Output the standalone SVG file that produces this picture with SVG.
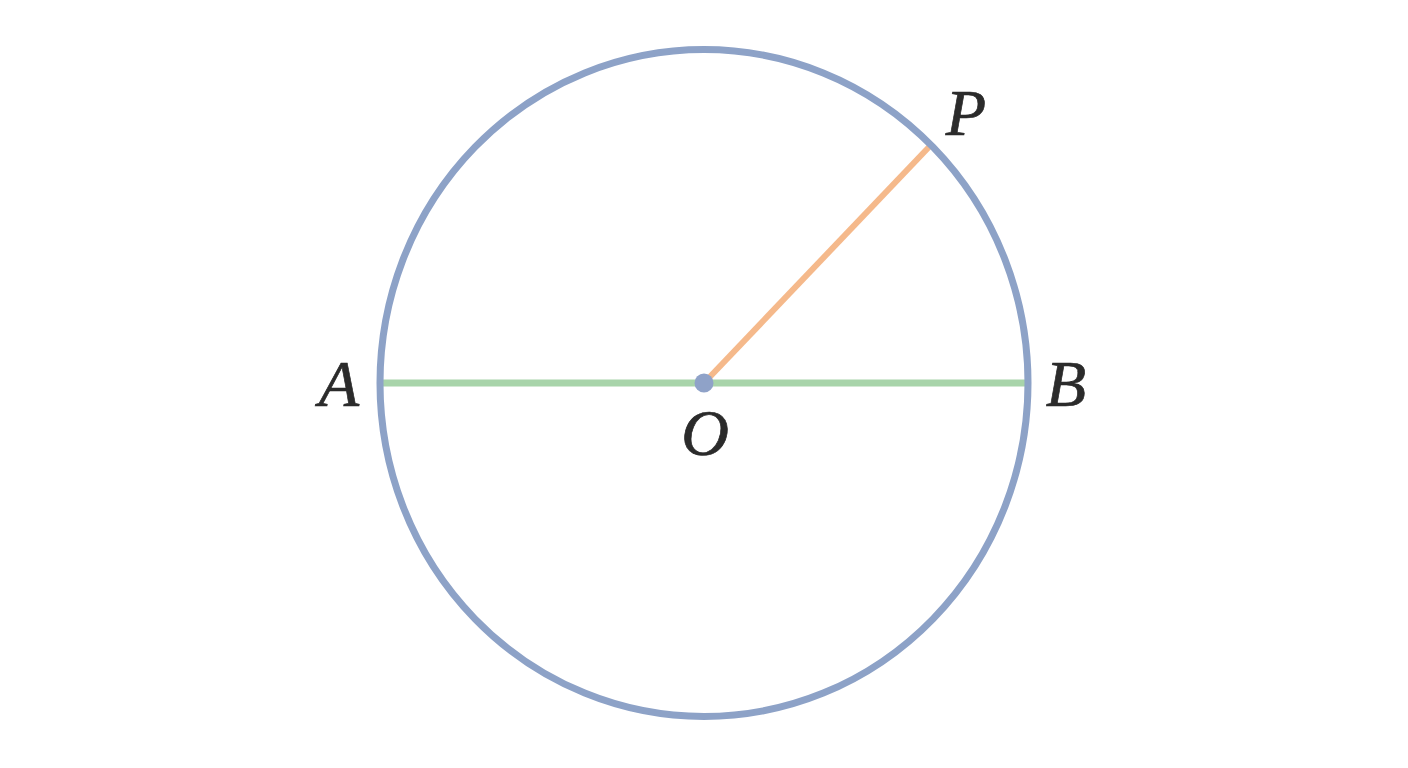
<svg xmlns="http://www.w3.org/2000/svg" width="1408" height="768" viewBox="0 0 1408 768">
<style>
.lbl{font-family:"Liberation Serif","Times New Roman",serif;font-style:italic;font-size:66px;fill:#2b2b2b;stroke:#2b2b2b;stroke-width:0.7px;text-anchor:middle}
</style>
<rect width="1408" height="768" fill="#ffffff"/>
<g id="connectors">
<line id="AB" x1="380" y1="383" x2="1028" y2="383" stroke="#a8d4aa" stroke-width="7"/>
<line id="OP" x1="704" y1="383" x2="929" y2="147" stroke="#f5b98b" stroke-width="6"/>
</g>
<g id="circle">
<ellipse cx="704" cy="383" rx="324" ry="333.5" fill="none" stroke="#8da2c7" stroke-width="7"/>
</g>
<g id="O">
<circle cx="704" cy="383" r="9.5" fill="#8fa2c8"/>
<text class="lbl" x="705" y="455" font-size="70">O</text>
</g>
<g id="A"><text class="lbl" x="339" y="406">A</text></g>
<g id="B"><text class="lbl" x="1066" y="406">B</text></g>
<g id="P"><text class="lbl" x="966" y="135">P</text></g>
</svg>
